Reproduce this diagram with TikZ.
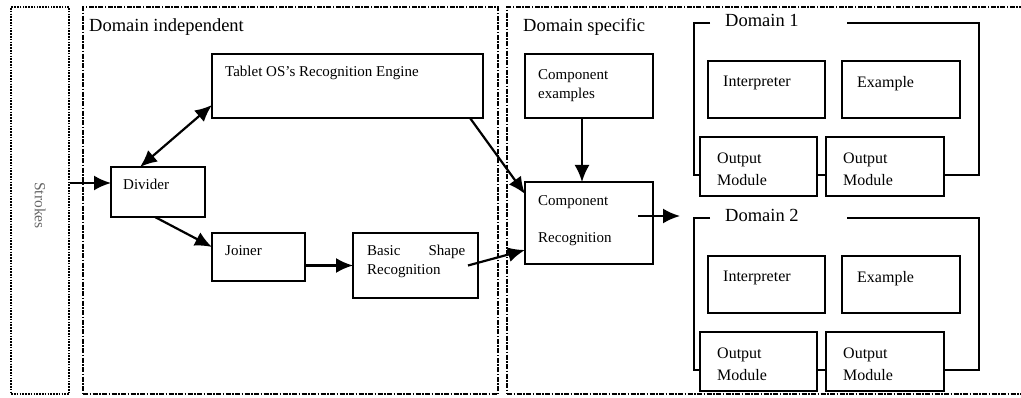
\documentclass[tikz,border=0pt]{standalone}
\usepackage{fontspec}
\setmainfont{Liberation Serif}
\usetikzlibrary{arrows.meta}

\tikzset{
  bigtip/.tip={Latex[length=17pt,width=15pt]},
  blk/.style={draw, line width=2.8pt, fill=white, inner sep=0pt, outer sep=0pt, anchor=north west},
  lbl/.style 2 args={anchor=north west, inner sep=0pt, xshift=#1, yshift=-#2, align=left},
  dlbl/.style={lbl={15pt}{15pt}, font=\fontsize{16}{22}\selectfont},
  olbl/.style={lbl={17pt}{16pt}, font=\fontsize{16}{22}\selectfont},
  title/.style={anchor=base west, inner sep=0pt, font=\fontsize{18.5}{22}\selectfont},
  frame/.style={line width=2.4pt},
  dashdot/.style={draw, line width=2.2pt, dash pattern=on 5pt off 1.5pt on 1.5pt off 1.5pt, anchor=north west, inner sep=0pt},
  flow/.style={-bigtip, line width=2.2pt},
}

\begin{document}
\begin{tikzpicture}[x=1pt, y=-1pt, font=\fontsize{15}{19}\selectfont]

\useasboundingbox (0,0) rectangle (1021,398);

\node[draw, line width=2.2pt, dash pattern=on 1.6pt off 1.2pt, anchor=north west, inner sep=0pt,
  minimum width=58pt, minimum height=387pt,
  label={[rotate=-90, gray!80!black, xshift=5pt, font=\fontsize{15.5}{19}\selectfont]center:Strokes}] (strk) at (10,6) {};
\node[dashdot, minimum width=415pt, minimum height=387pt] (dind) at (82,6) {};
\node[dashdot, minimum width=540pt, minimum height=387pt] (dspec) at (506,6) {};
\node[title] (tind) at (89,32) {Domain independent};
\node[title] (tspec) at (523,32) {Domain specific};

\node[blk, minimum width=271pt, minimum height=64pt,
  label={[lbl={13pt}{12pt}]north west:Tablet OS's Recognition Engine}] (tab) at (212,54) {};
\node[blk, minimum width=94pt, minimum height=50pt,
  label={[lbl={12pt}{12pt}]north west:Divider}] (div) at (111,167) {};
\node[blk, minimum width=93pt, minimum height=48pt,
  label={[lbl={13pt}{12pt}]north west:Joiner}] (jn) at (212,233) {};
\node[blk, minimum width=125pt, minimum height=65pt,
  label={[lbl={14pt}{12pt}]north west:\hbox to 98pt{Basic\hfill Shape}\\Recognition}] (bsr) at (353,233) {};
\node[blk, minimum width=128pt, minimum height=64pt,
  label={[lbl={13pt}{15pt}]north west:Component\\examples}] (ce) at (525,54) {};
\node[blk, minimum width=128pt, minimum height=82pt,
  label={[lbl={13pt}{13pt}]north west:Component\\[18pt]Recognition}] (cr) at (525,182) {};

\foreach \d/\dy in {1/0,2/195}{
  \begin{scope}[yshift=-\dy pt]
    \draw[frame] (710,23) -- (694,23) -- (694,175) -- (979,175) -- (979,23) -- (847,23);
    \node[title] (dt\d) at (725,27) {Domain \d};
    \node[blk, minimum width=117pt, minimum height=57pt,
      label={[dlbl]north west:Interpreter}] (int\d) at (708,61) {};
    \node[blk, minimum width=118pt, minimum height=57pt,
      label={[dlbl]north west:Example}] (ex\d) at (842,61) {};
    \node[blk, minimum width=117pt, minimum height=59pt,
      label={[olbl]north west:Output\\Module}] (outa\d) at (700,137) {};
    \node[blk, minimum width=118pt, minimum height=59pt,
      label={[olbl]north west:Output\\Module}] (outb\d) at (826,137) {};
  \end{scope}
}

\coordinate (dvin) at ([yshift=9pt]div.west);
\coordinate (dom) at (680,216);

\draw[flow] (strk.east |- dvin) -- (dvin);
\draw[flow, bigtip-bigtip] ([xshift=29pt]div.north west) -- ([yshift=13pt]tab.south west);
\draw[flow] ([xshift=44pt]div.south west) -- ([yshift=-14pt]jn.north west);
\draw[flow] (jn.east |- bsr.west) -- (bsr.west);
\draw[flow] ([xshift=-10pt]bsr.east) -- ([yshift=-27pt]cr.west);
\draw[flow] ([xshift=-13pt]tab.south east) -- ([yshift=-12pt]cr.north west);
\draw[flow] ([xshift=-7pt]ce.south) -- ([xshift=-7pt]cr.north);
\draw[flow] ([xshift=-15pt,yshift=7pt]cr.east) -- (dom);

\end{tikzpicture}
\end{document}
